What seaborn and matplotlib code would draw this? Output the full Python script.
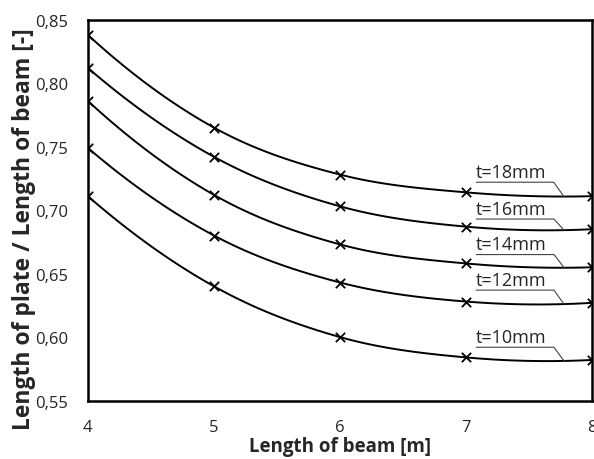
"""
Plate length ratio vs beam length, one curve per plate thickness
"""

import matplotlib.pyplot as plt
import numpy as np
import pandas as pd
import seaborn as sns
from matplotlib.ticker import FuncFormatter


beam_length = [4, 5, 6, 7, 8]
thickness_labels = ["t=18mm", "t=16mm", "t=14mm", "t=12mm", "t=10mm"]
ratio_t18 = [0.838, 0.765, 0.728, 0.714, 0.711]
ratio_t16 = [0.812, 0.742, 0.703, 0.687, 0.685]
ratio_t14 = [0.786, 0.712, 0.673, 0.658, 0.655]
ratio_t12 = [0.749, 0.680, 0.643, 0.628, 0.627]
ratio_t10 = [0.711, 0.640, 0.600, 0.584, 0.582]
# where the data labels sit (x of text start, y of underline)
label_x = [7.08, 7.08, 7.08, 7.08, 7.08]
label_y = [0.722, 0.693, 0.665, 0.637, 0.592]


def smooth(xs, ys, n=30):
    # cubic hermite, central slopes inside, 3-point slopes at the ends
    xs = np.asarray(xs, float)
    ys = np.asarray(ys, float)
    m = np.zeros_like(ys)
    m[1:-1] = (ys[2:] - ys[:-2]) / 2
    m[0] = (-3 * ys[0] + 4 * ys[1] - ys[2]) / 2
    m[-1] = (ys[-3] - 4 * ys[-2] + 3 * ys[-1]) / 2
    t = np.linspace(0, 1, n)
    h00 = 2 * t ** 3 - 3 * t ** 2 + 1
    h10 = t ** 3 - 2 * t ** 2 + t
    h01 = -2 * t ** 3 + 3 * t ** 2
    h11 = t ** 3 - t ** 2
    out_x, out_y = [], []
    for i in range(len(xs) - 1):
        out_x.extend(xs[i] + t * (xs[i + 1] - xs[i]))
        out_y.extend(h00 * ys[i] + h10 * m[i] + h01 * ys[i + 1] + h11 * m[i + 1])
    return np.array(out_x), np.array(out_y)


def main():
    sns.set_style("white")
    plt.rcParams["font.family"] = ["Open Sans", "DejaVu Sans"]

    series = [ratio_t18, ratio_t16, ratio_t14, ratio_t12, ratio_t10]

    curves = []
    points = []
    for lab, vals in zip(thickness_labels, series):
        sx, sy = smooth(beam_length, vals)
        curves.append(pd.DataFrame({"x": sx, "y": sy, "t": lab}))
        points.append(pd.DataFrame({"x": beam_length, "y": vals, "t": lab}))
    df_curve = pd.concat(curves)
    df_pts = pd.concat(points)

    fig = plt.figure(figsize=(5.94, 4.60), dpi=100)
    ax = fig.add_axes([0.148, 0.127, 0.849, 0.828])

    sns.lineplot(data=df_curve, x="x", y="y", units="t", estimator=None,
                 color="black", linewidth=1.4, sort=False, ax=ax)
    sns.scatterplot(data=df_pts, x="x", y="y", marker="x", color="black",
                    s=45, linewidth=1.3, ax=ax, zorder=3)

    for lab, vals, lx, ly in zip(thickness_labels, series, label_x, label_y):
        sx, sy = smooth(beam_length, vals)
        t = ax.text(lx, ly + 0.001, lab, fontsize=13, ha="left", va="bottom")
        fig.canvas.draw()
        bb = t.get_window_extent().transformed(ax.transData.inverted())
        x_end = bb.x1
        tx = x_end + 0.08
        ty = np.interp(tx, sx, sy)
        ax.plot([lx, x_end, tx], [ly, ly, ty], color="#444444", linewidth=0.8)

    ax.set_xlim(4, 8)
    ax.set_ylim(0.55, 0.85)
    ax.set_xticks([4, 5, 6, 7, 8])
    ax.set_yticks([0.55, 0.60, 0.65, 0.70, 0.75, 0.80, 0.85])
    ax.yaxis.set_major_formatter(FuncFormatter(lambda v, p: f"{v:.2f}".replace(".", ",")))
    ax.tick_params(axis="both", length=0, labelsize=12)
    ax.tick_params(axis="x", pad=13)
    ax.tick_params(axis="y", pad=14)

    for s in ax.spines.values():
        s.set_color("black")
        s.set_linewidth(1.8)

    ax.set_xlabel("Length of beam [m]", fontsize=13.5, fontweight="bold", labelpad=1)
    ax.set_ylabel("Length of plate / Length of beam [-]", fontsize=16.5,
                  fontweight="bold")
    # label sits a bit below the axes centre in the original
    ax.yaxis.set_label_coords(-0.102, 0.453)

    fig.savefig("out.png", dpi=100)


if __name__ == "__main__":
    main()
